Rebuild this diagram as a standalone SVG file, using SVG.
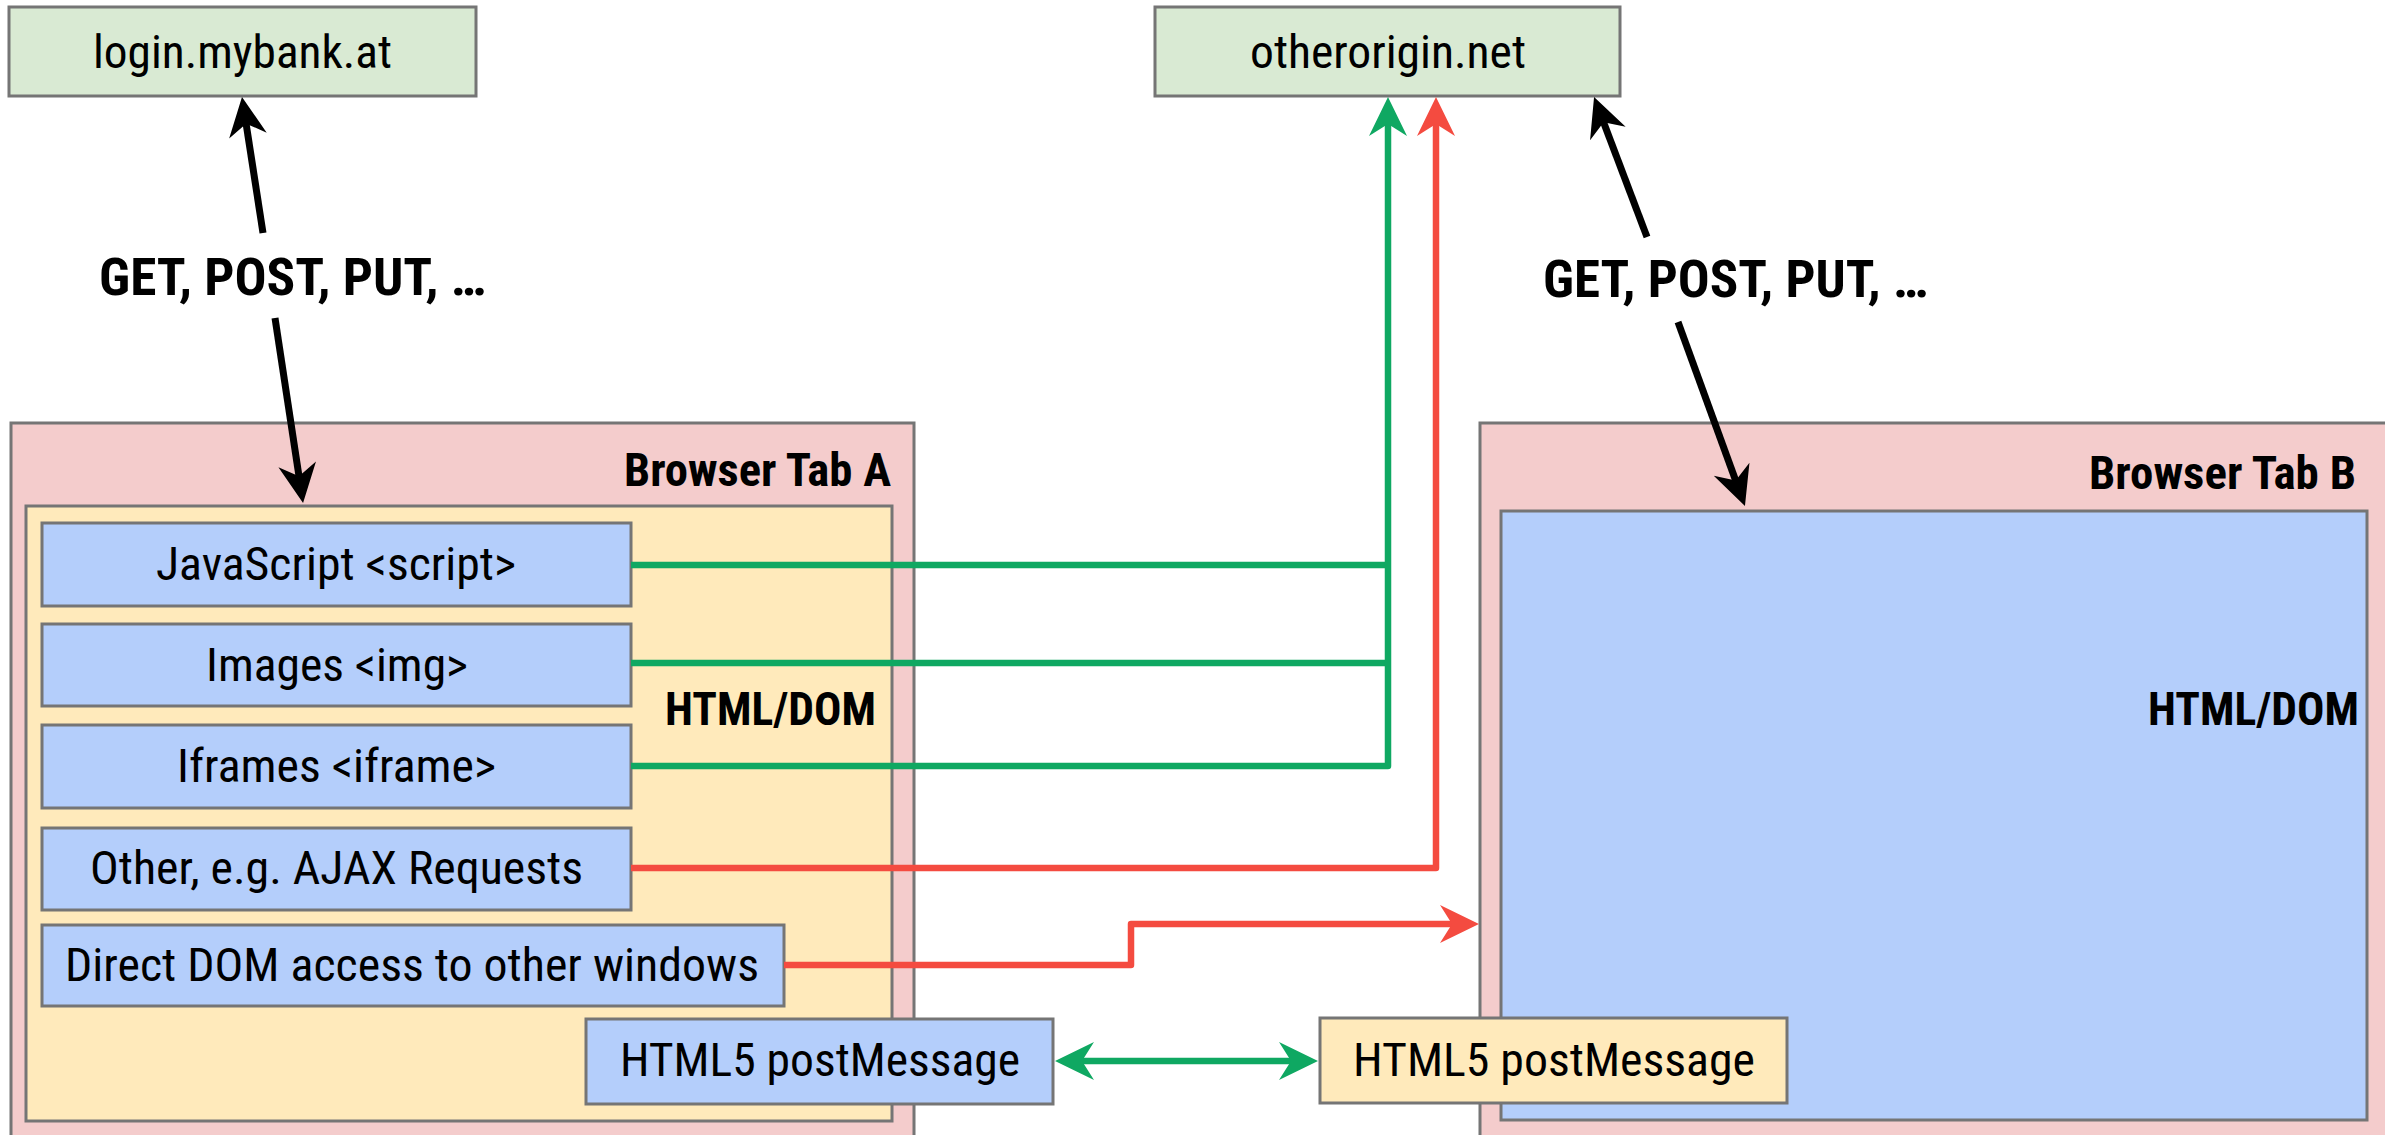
<svg xmlns="http://www.w3.org/2000/svg" width="2385" height="1135" viewBox="0 0 2385 1135">
  <style>
    .box { stroke: #757575; stroke-width: 3; }
    .srv { fill: #d9ead3; }
    .tab { fill: #f4cccc; }
    .dom { fill: #ffeabb; }
    .el { fill: #b4cefb; }
    .t { font-family: "Roboto Condensed", Roboto, "Liberation Sans", sans-serif; font-stretch: condensed; font-size: 47px; fill: #000; }
    .b { font-weight: 700; }
    .big { font-size: 52px; }
    .lbl { font-size: 47px; }
    .wire { fill: none; stroke-width: 6.5; stroke-linejoin: round; }
    .green { stroke: #0fa862; }
    .red { stroke: #f44b40; }
    .black { stroke: #000; stroke-width: 7; }
  </style>
  <defs>
    <marker id="head-black" markerUnits="userSpaceOnUse" markerWidth="66" markerHeight="44" viewBox="-66 -22 66 44" refX="-25" refY="0" orient="auto-start-reverse" overflow="visible">
      <path d="M0,0 L-39,-19 L-27,0 L-39,19 Z" fill="#000"/>
    </marker>
    <marker id="head-green" markerUnits="userSpaceOnUse" markerWidth="66" markerHeight="44" viewBox="-66 -22 66 44" refX="-25" refY="0" orient="auto-start-reverse" overflow="visible">
      <path d="M0,0 L-39,-19 L-27,0 L-39,19 Z" fill="#0fa862"/>
    </marker>
    <marker id="head-red" markerUnits="userSpaceOnUse" markerWidth="66" markerHeight="44" viewBox="-66 -22 66 44" refX="-25" refY="0" orient="auto-start-reverse" overflow="visible">
      <path d="M0,0 L-39,-19 L-27,0 L-39,19 Z" fill="#f44b40"/>
    </marker>
  </defs>

  <rect width="2385" height="1135" fill="#fff"/>

  <!-- servers -->
  <g id="login-mybank">
    <rect class="box srv" x="9" y="7" width="467" height="89"/>
    <text class="t" x="93" y="68" textLength="299" lengthAdjust="spacingAndGlyphs">login.mybank.at</text>
  </g>
  <g id="otherorigin">
    <rect class="box srv" x="1155" y="7" width="465" height="89"/>
    <text class="t" x="1250" y="68" textLength="276" lengthAdjust="spacingAndGlyphs">otherorigin.net</text>
  </g>

  <!-- browser tab A -->
  <g id="tab-a">
    <rect class="box tab" x="11" y="423" width="903" height="740"/>
    <text class="t b" x="624" y="486" textLength="267" lengthAdjust="spacingAndGlyphs">Browser Tab A</text>
  </g>
  <g id="dom-a">
    <rect class="box dom" x="26" y="506" width="866" height="615"/>
    <text class="t b lbl" x="665" y="725" textLength="211" lengthAdjust="spacingAndGlyphs">HTML/DOM</text>
  </g>
  <g id="el-script">
    <rect class="box el" x="42" y="523" width="589" height="83"/>
    <text class="t" x="156" y="580" textLength="360" lengthAdjust="spacingAndGlyphs">JavaScript &lt;script&gt;</text>
  </g>
  <g id="el-img">
    <rect class="box el" x="42" y="624" width="589" height="82"/>
    <text class="t" x="206" y="681" textLength="262" lengthAdjust="spacingAndGlyphs">Images &lt;img&gt;</text>
  </g>
  <g id="el-iframe">
    <rect class="box el" x="42" y="725" width="589" height="83"/>
    <text class="t" x="177" y="782" textLength="319" lengthAdjust="spacingAndGlyphs">Iframes &lt;iframe&gt;</text>
  </g>
  <g id="el-ajax">
    <rect class="box el" x="42" y="828" width="589" height="82"/>
    <text class="t" x="90" y="884" textLength="493" lengthAdjust="spacingAndGlyphs">Other, e.g. AJAX Requests</text>
  </g>
  <g id="el-dom-access">
    <rect class="box el" x="42" y="925" width="742" height="81"/>
    <text class="t" x="65" y="981" textLength="694" lengthAdjust="spacingAndGlyphs">Direct DOM access to other windows</text>
  </g>

  <!-- browser tab B -->
  <g id="tab-b">
    <rect class="box tab" x="1480" y="423" width="920" height="740"/>
    <text class="t b" x="2089" y="489" textLength="267" lengthAdjust="spacingAndGlyphs">Browser Tab B</text>
  </g>
  <g id="dom-b">
    <rect class="box el" x="1501" y="511" width="866" height="609"/>
    <text class="t b lbl" x="2148" y="725" textLength="211" lengthAdjust="spacingAndGlyphs">HTML/DOM</text>
  </g>

  <g id="postmessage-a">
    <rect class="box el" x="586" y="1019" width="467" height="85"/>
    <text class="t" x="620" y="1076" textLength="400" lengthAdjust="spacingAndGlyphs">HTML5 postMessage</text>
  </g>
  <g id="postmessage-b">
    <rect class="box dom" x="1320" y="1018" width="467" height="85"/>
    <text class="t" x="1353" y="1076" textLength="402" lengthAdjust="spacingAndGlyphs">HTML5 postMessage</text>
  </g>

  <!-- request labels -->
  <g id="label-requests-a">
    <text class="t b big" x="99" y="295" textLength="387" lengthAdjust="spacingAndGlyphs">GET, POST, PUT, …</text>
  </g>
  <g id="label-requests-b">
    <text class="t b big" x="1543" y="297" textLength="385" lengthAdjust="spacingAndGlyphs">GET, POST, PUT, …</text>
  </g>

  <!-- connectors -->
  <g id="connectors">
    <path class="wire black" d="M263,233 L245.8,121.7" marker-end="url(#head-black)"/>
    <path class="wire black" d="M275,318 L299.3,478.3" marker-end="url(#head-black)"/>
    <path class="wire black" d="M1647,237 L1602.9,120.4" marker-end="url(#head-black)"/>
    <path class="wire black" d="M1678,322 L1736.4,482.5" marker-end="url(#head-black)"/>

    <path class="wire green" d="M631,565 H1388"/>
    <path class="wire green" d="M631,663 H1388"/>
    <path class="wire green" d="M631,766 H1388 V122" marker-end="url(#head-green)"/>

    <path class="wire red" d="M631,868 H1436 V122" marker-end="url(#head-red)"/>
    <path class="wire red" d="M784,965 H1131 V924 H1454" marker-end="url(#head-red)"/>

    <path class="wire green" d="M1080,1061 H1293" marker-start="url(#head-green)" marker-end="url(#head-green)"/>
  </g>
</svg>
